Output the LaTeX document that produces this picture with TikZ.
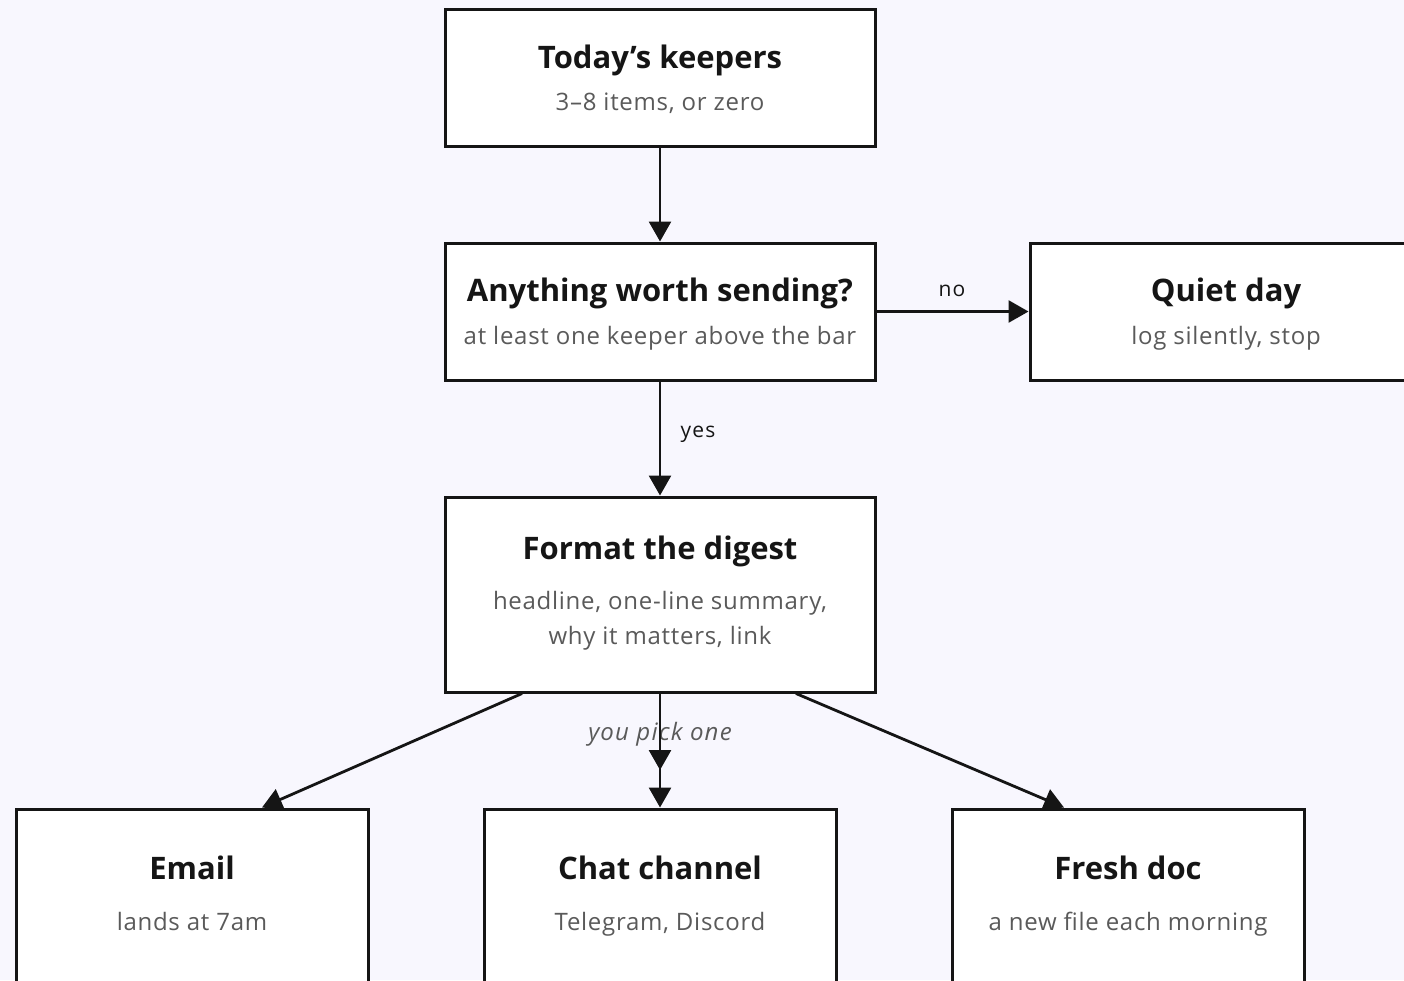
\documentclass[tikz,border=0pt]{standalone}
\usepackage{fontspec}
\setmainfont{Open Sans}
\newfontfamily\subfont[LetterSpace=3]{Open Sans}
\newfontfamily\lblfont[LetterSpace=6]{Open Sans}
\newfontfamily\notefont[LetterSpace=5]{Open Sans}
\usetikzlibrary{arrows.meta}
\definecolor{bg}{HTML}{F8F7FE}
\definecolor{ink}{HTML}{151515}
\definecolor{muted}{HTML}{5A5A5A}
\begin{document}
\begin{tikzpicture}[x=1pt,y=-1pt,
  box/.style={draw=ink, line width=3pt, fill=white, rectangle, inner sep=0pt},
  ttl/.style={font=\fontsize{31}{36}\selectfont\bfseries, text=ink, anchor=base},
  sub/.style={font=\subfont\fontsize{24}{28}\selectfont, text=muted, anchor=base},
  lbl/.style={font=\lblfont\fontsize{21}{24}\selectfont, text=ink, anchor=base},
  note/.style={font=\notefont\fontsize{24}{28}\selectfont\itshape, text=muted, anchor=base},
  link/.style={draw=ink, line width=2.8pt, -{Triangle[length=20pt,width=22pt]}}]

% canvas
\fill[bg] (0,0) rectangle (1404,980);
\useasboundingbox (0,0) rectangle (1404,980);

% boxes
\node[box, minimum width=430pt, minimum height=137pt] (keep) at (660,77.5) {};
\node[box, minimum width=430pt, minimum height=137pt] (ask) at (660,311.5) {};
\node[box, minimum width=392pt, minimum height=137pt] (quiet) at (1226,311.5) {};
\node[box, minimum width=430pt, minimum height=195pt] (fmt) at (660,594.5) {};
\node[box, minimum width=352pt, minimum height=181pt] (email) at (192,899.5) {};
\node[box, minimum width=352pt, minimum height=181pt] (chat) at (660,899.5) {};
\node[box, minimum width=352pt, minimum height=181pt] (fresh) at (1128,899.5) {};

% box texts
\node[ttl] (keepT) at (660,68) {Today’s keepers};
\node[sub] (keepS) at (660,110) {3–8 items, or zero};
\node[ttl] (askT) at (660,301) {Anything worth sending?};
\node[sub] (askS) at (660,344) {at least one keeper above the bar};
\node[ttl] (quietT) at (1226,301) {Quiet day};
\node[sub] (quietS) at (1226,344) {log silently, stop};
\node[ttl] (fmtT) at (660,559) {Format the digest};
\node[sub] (fmtS1) at (660,609) {headline, one-line summary,};
\node[sub] (fmtS2) at (660,644) {why it matters, link};
\node[ttl] (emailT) at (192,879) {Email};
\node[sub] (emailS) at (192,930) {lands at 7am};
\node[ttl] (chatT) at (660,879) {Chat channel};
\node[sub] (chatS) at (660,930) {Telegram, Discord};
\node[ttl] (freshT) at (1128,879) {Fresh doc};
\node[sub] (freshS) at (1128,930) {a new file each morning};

% edge labels
\node[lbl] (no) at (952,296) {no};
\node[lbl] (yes) at (698,437) {yes};
\node[note] (pick) at (660,740) {you pick one};

% connectors
\coordinate (mid) at (660,770);
\draw[link] (keep.south) -- (ask.north);
\draw[link] (ask.east) -- (quiet.west);
\draw[link] (ask.south) -- (fmt.north);
\draw[link] ([xshift=-138pt]fmt.south) -- ([xshift=70pt]email.north);
\draw[link] (fmt.south) -- (mid);
\draw[link] (fmt.south) -- (chat.north);
\draw[link] ([xshift=136pt]fmt.south) -- ([xshift=-64pt]fresh.north);
\end{tikzpicture}
\end{document}
